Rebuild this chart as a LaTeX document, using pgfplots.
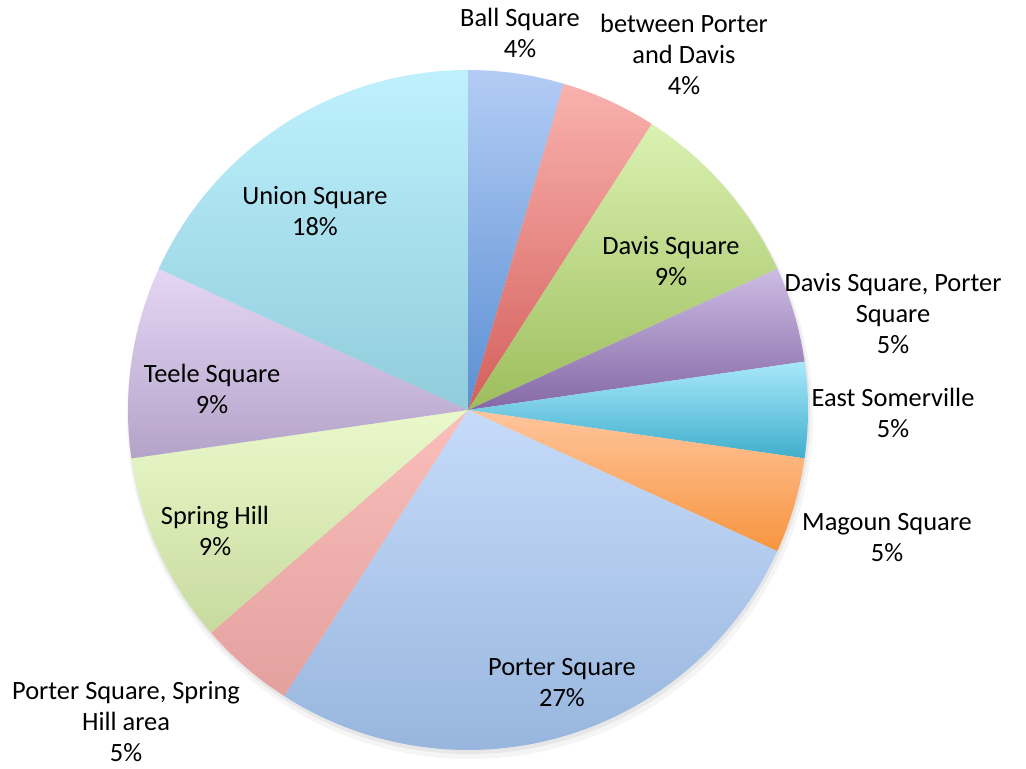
\documentclass[border=0pt]{standalone}
\usepackage{pgfplots}
\pgfplotsset{compat=1.18}
\usepackage{pgfplotstable}
\usepackage{fontspec}
\setmainfont{Carlito}

% slice colours: light at the top of each slice, darker at the bottom
\definecolor{t0}{HTML}{B3CCF5}\definecolor{b0}{HTML}{5B8FD2}  % Ball Square
\definecolor{t1}{HTML}{F9B2AE}\definecolor{b1}{HTML}{D45F5B}  % between Porter and Davis
\definecolor{t2}{HTML}{DAF2B2}\definecolor{b2}{HTML}{9DBD5C}  % Davis Square
\definecolor{t3}{HTML}{CCBCE3}\definecolor{b3}{HTML}{8468A6}  % Davis Sq, Porter Sq
\definecolor{t4}{HTML}{A8E8FB}\definecolor{b4}{HTML}{40AECB}  % East Somerville
\definecolor{t5}{HTML}{FFC59D}\definecolor{b5}{HTML}{F7953F}  % Magoun Square
\definecolor{t6}{HTML}{C6DBFA}\definecolor{b6}{HTML}{97B5DD}  % Porter Square
\definecolor{t7}{HTML}{FABEBB}\definecolor{b7}{HTML}{E3A19E}  % Porter Sq, Spring Hill area
\definecolor{t8}{HTML}{EAF9CB}\definecolor{b8}{HTML}{C7DA9E}  % Spring Hill
\definecolor{t9}{HTML}{E5D6F5}\definecolor{b9}{HTML}{B4A3C8}  % Teele Square
\definecolor{t10}{HTML}{BFF1FD}\definecolor{b10}{HTML}{90CCDC} % Union Square

% responses per area (clockwise from 12 o'clock)
\pgfplotstableread{
id count
0  1
1  1
2  2
3  1
4  1
5  1
6  6
7  1
8  2
9  2
10 4
}\piedata

\begin{document}
\begin{tikzpicture}
\def\total{0}
\pgfplotsforeachungrouped\i in {0,...,10}{%
  \pgfplotstablegetelem{\i}{count}\of\piedata
  \pgfmathsetmacro\total{\total+\pgfplotsretval}}
\def\cum{0}
\pgfplotsforeachungrouped\i in {0,...,10}{%
  \pgfplotstablegetelem{\i}{count}\of\piedata
  \pgfmathsetmacro\sa{90-360*\cum/\total}
  \pgfmathsetmacro\cum{\cum+\pgfplotsretval}
  \pgfmathsetmacro\ea{90-360*\cum/\total}
  \expandafter\xdef\csname sa\i\endcsname{\sa}
  \expandafter\xdef\csname ea\i\endcsname{\ea}}
\begin{axis}[
    x=0.5pt, y=0.5pt,
    xmin=0, xmax=1026, ymin=0, ymax=766,
    hide axis, clip=false,
]
\path (axis cs:0,0) rectangle (axis cs:1026,766);

% soft shadow
\fill[black, opacity=0.04] (axis cs:470,350) circle[radius=171.5pt];
\fill[black, opacity=0.06] (axis cs:469,353) circle[radius=170.5pt];

\pgfplotsinvokeforeach{0,...,10}{
  \shade[top color=t#1, bottom color=b#1]
    (axis cs:468,356) -- ++(\csname sa#1\endcsname:170pt)
    arc[start angle=\csname sa#1\endcsname, end angle=\csname ea#1\endcsname, radius=170pt]
    -- cycle;
}

\begin{scope}[every node/.style={align=center, font=\fontsize{13.2}{15.5}\selectfont}]
\node at (axis cs:520,733) {Ball Square\\4\%};
\node at (axis cs:684,712) {between Porter\\and Davis\\4\%};
\node at (axis cs:671,505) {Davis Square\\9\%};
\node at (axis cs:893,452) {Davis Square, Porter\\Square\\5\%};
\node at (axis cs:893,353) {East Somerville\\5\%};
\node at (axis cs:887,228) {Magoun Square\\5\%};
\node at (axis cs:562,83) {Porter Square\\27\%};
\node at (axis cs:126,44) {Porter Square, Spring\\Hill area\\5\%};
\node at (axis cs:215,235) {Spring Hill\\9\%};
\node at (axis cs:212,377) {Teele Square\\9\%};
\node at (axis cs:315,555) {Union Square\\18\%};
\end{scope}
\end{axis}
\end{tikzpicture}
\end{document}
